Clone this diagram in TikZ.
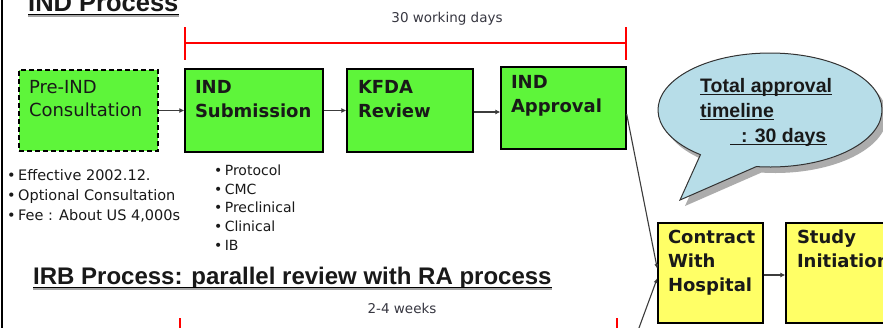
\documentclass[tikz,border=0pt]{standalone}
\usepackage{fontspec}
\setmainfont{DejaVu Sans}
\newfontfamily\libsans{Liberation Sans}
\usetikzlibrary{arrows.meta}
\definecolor{gfill}{RGB}{94,245,58}
\definecolor{yfill}{RGB}{255,255,102}
\definecolor{bfill}{RGB}{183,221,232}
\definecolor{ink}{RGB}{25,25,25}
\definecolor{arrcol}{RGB}{60,60,60}
\definecolor{grayink}{RGB}{55,55,65}
\newcommand{\boxtext}[4]{\parbox[c][#1][t]{#2}{\vspace*{#3}\raggedright #4}}
\tikzset{
  procbox/.style={draw=black, line width=1.3pt, inner sep=0pt, text=ink,
    font=\fontsize{18}{24}\selectfont\bfseries},
  greenbox/.style={procbox, fill=gfill},
  yellowbox/.style={procbox, fill=yfill},
  flow/.style={draw=arrcol, line width=1.8pt, -{Latex[length=5pt,width=5pt]}},
  thinflow/.style={draw=arrcol, line width=1.1pt, -{Latex[length=5pt,width=4pt]}},
  span/.style={draw=red, line width=1.2pt},
  bullet/.style={anchor=base west, inner sep=0pt, text=ink, font=\fontsize{14}{16}\selectfont},
  heading/.style={anchor=base west, inner sep=0pt, text=ink, font=\libsans\bfseries\fontsize{24}{28}\selectfont},
  bubtext/.style={anchor=base west, inner sep=0pt, text=ink, font=\libsans\bfseries\fontsize{19.5}{24}\selectfont},
  uline/.style={draw=ink, line width=1.2pt},
  small/.style={anchor=base, inner sep=0pt, text=grayink, font=\fontsize{13.5}{16}\selectfont}
}
\begin{document}
\begin{tikzpicture}[x=1pt,y=-1pt]
\useasboundingbox (0,0) rectangle (883,327);
\fill[white] (0,0) rectangle (883,327);
% left border
\draw[black, line width=2pt] (2,-2) -- (2,330);

% titles
\node[heading, font=\libsans\bfseries\fontsize{25.5}{28}\selectfont] (t1) at (28,11) {IND Process};
\draw[gray!70, line width=1.2pt] ([yshift=-5pt]t1.base west) -- ([yshift=-5pt]t1.base east);
\draw[black, line width=1.3pt] ([yshift=-3.5pt]t1.base west) -- ([yshift=-3.5pt]t1.base east);
\node[heading] (t2) at (33,284) {IRB Process: parallel review with RA process};
\draw[gray!70, line width=1.2pt] ([yshift=-5pt]t2.base west) -- ([yshift=-5pt]t2.base east);
\draw[black, line width=1.3pt] ([yshift=-3.5pt]t2.base west) -- ([yshift=-3.5pt]t2.base east);

% spans
\node[small] (d1) at (447,22) {30 working days};
\draw[span] (185,27) -- (185,60);
\draw[span] (626,27) -- (626,60);
\draw[span] (185,43) -- (626,43);
\node[small] (d2) at (402,313) {2-4 weeks};
\draw[span] (180,318) -- (180,340);
\draw[span] (617,318) -- (617,340);

% IND boxes
\node[greenbox, dashed, dash pattern=on 5pt off 3pt, font=\fontsize{18}{23}\selectfont,
      minimum width=139pt, minimum height=81pt] (pre) at (88.5,110.5)
  {\boxtext{81pt}{119pt}{10pt}{Pre-IND\\Consultation}};
\node[greenbox, minimum width=138pt, minimum height=83pt] (sub) at (254,110.5)
  {\boxtext{83pt}{118pt}{11pt}{IND\\Submission}};
\node[greenbox, minimum width=126pt, minimum height=83pt] (kfda) at (410,110.5)
  {\boxtext{83pt}{104pt}{11pt}{KFDA\\Review}};
\node[greenbox, minimum width=125pt, minimum height=82pt] (app) at (563.5,108)
  {\boxtext{82pt}{105pt}{8pt}{IND\\Approval}};

% bullets
\node[bullet, font=\fontsize{14.5}{16}\selectfont] (b1) at (7,180) {•\,Effective 2002.12.};
\node[bullet, font=\fontsize{14.5}{16}\selectfont] (b2) at (7,200) {•\,Optional Consultation};
\node[bullet, font=\fontsize{14.5}{16}\selectfont] (b3) at (7,220) {•\,Fee : About US 4,000s};
\node[bullet] (c1) at (214,175) {•\,Protocol};
\node[bullet] (c2) at (214,194) {•\,CMC};
\node[bullet] (c3) at (214,212.5) {•\,Preclinical};
\node[bullet] (c4) at (214,231) {•\,Clinical};
\node[bullet] (c5) at (214,250) {•\,IB};

% bubble
\fill[gray!65, shift={(5pt,-6pt)}] (770,110) ++(231.6:112pt and 57pt)
  arc[start angle=231.6, end angle=-97, x radius=112pt, y radius=57pt] -- (680,200) -- cycle;
\filldraw[fill=bfill, draw=black!80, line width=1pt] (770,110) ++(231.6:112pt and 57pt)
  arc[start angle=231.6, end angle=-97, x radius=112pt, y radius=57pt] -- (680,200) -- cycle;
\node[bubtext] (bt1) at (700,92) {Total approval};
\node[bubtext] (bt2) at (700,117) {timeline};
\node[bubtext] (bt3) at (730,142) {\ \ : 30 days};
\draw[uline] ([yshift=-2.5pt]bt1.base west) -- ([yshift=-2.5pt]bt1.base east);
\draw[uline] ([yshift=-2.5pt]bt2.base west) -- ([yshift=-2.5pt]bt2.base east);
\draw[uline] ([yshift=-2.5pt]bt3.base west) -- ([yshift=-2.5pt]bt3.base east);

% hospital boxes
\node[yellowbox, minimum width=105pt, minimum height=100pt] (con) at (710.5,273)
  {\boxtext{100pt}{85pt}{7pt}{Contract\\With\\Hospital}};
\node[yellowbox, minimum width=120pt, minimum height=100pt] (study) at (846,273)
  {\boxtext{100pt}{98pt}{7pt}{Study\\Initiation}};

% connectors
\draw[flow] (pre.east |- sub.west) -- (sub.west);
\draw[flow] (sub.east) -- (kfda.west);
\draw[flow] ([yshift=-1.5pt]kfda.east) -- ([yshift=-1.5pt]kfda.east -| app.west);
\draw[thinflow] ([yshift=-6pt]app.east) -- ([yshift=4pt]con.west);
\coordinate (irbend) at (636,336);
\draw[thinflow] (irbend) -- ([yshift=-5pt]con.west);
\draw[flow, line width=1.3pt] ([yshift=-2pt]con.east) -- ([yshift=-2pt]con.east -| study.west);
\end{tikzpicture}
\end{document}
